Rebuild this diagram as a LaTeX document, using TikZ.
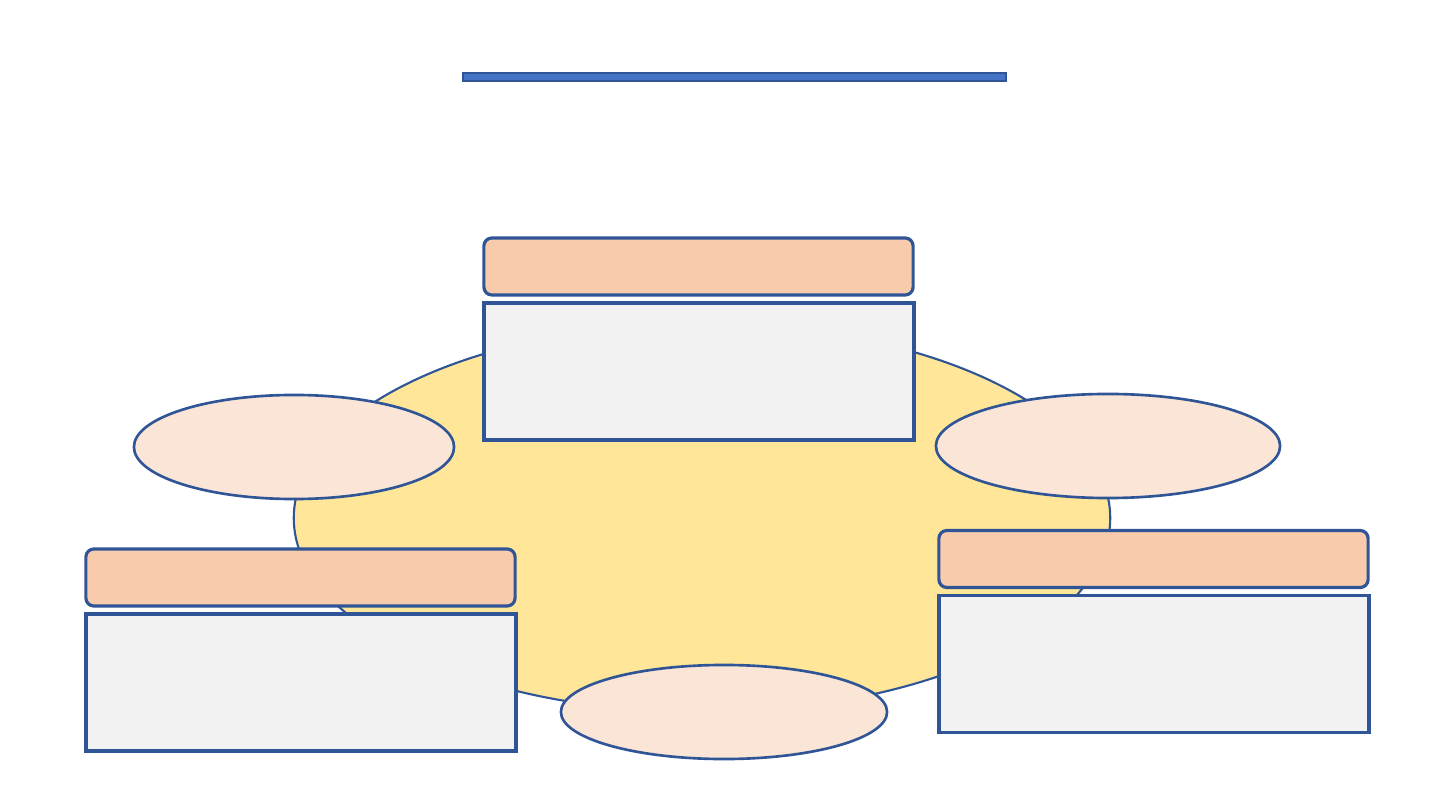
\documentclass[tikz,border=0pt]{standalone}
\usetikzlibrary{shapes.geometric}
\definecolor{bord}{RGB}{47,85,151}
\definecolor{jaune}{RGB}{255,230,153}
\definecolor{saumon}{RGB}{248,203,173}
\definecolor{rose}{RGB}{251,229,214}
\definecolor{gris}{RGB}{242,242,242}
\definecolor{bleu}{RGB}{68,114,196}
\begin{document}
\begin{tikzpicture}[x=0.01cm, y=-0.01cm,
                  titre/.style={draw=bord, fill=bleu, line width=0.5pt, inner sep=0, minimum width=5.43cm, minimum height=0.08cm},
                  entete/.style={draw=bord, fill=saumon, line width=0.9pt, rounded corners=0.08cm, inner sep=0, minimum width=4.29cm, minimum height=0.57cm},
                  contenu/.style={draw=bord, fill=gris, line width=1.1pt, inner sep=0, minimum width=4.3cm, minimum height=1.37cm},
                  bulle/.style={ellipse, draw=bord, fill=rose, line width=0.75pt, inner sep=0, minimum height=1.04cm}]
\useasboundingbox (0,0) rectangle (1440,810);
\node[titre] (bandeau) at (734.5,77) {};
\node[ellipse, draw=bord, fill=jaune, line width=0.6pt, inner sep=0, minimum width=8.16cm, minimum height=3.88cm] (centre) at (702,518) {};
\node[bulle, minimum width=3.2cm] (bgauche) at (294,447) {};
\node[bulle, minimum width=3.44cm] (bdroite) at (1108,446) {};
\node[bulle, minimum width=3.26cm, minimum height=0.94cm] (bbas) at (724,712) {};
\foreach \nom/\x/\y in {haut/698.5/266.5, gauche/300.5/577.5, droite/1153.5/559}
  {\node[entete] (e\nom) at (\x,\y) {};
   \node[contenu] (c\nom) at (\x+0.5,\y+105) {};};
\end{tikzpicture}
\end{document}
